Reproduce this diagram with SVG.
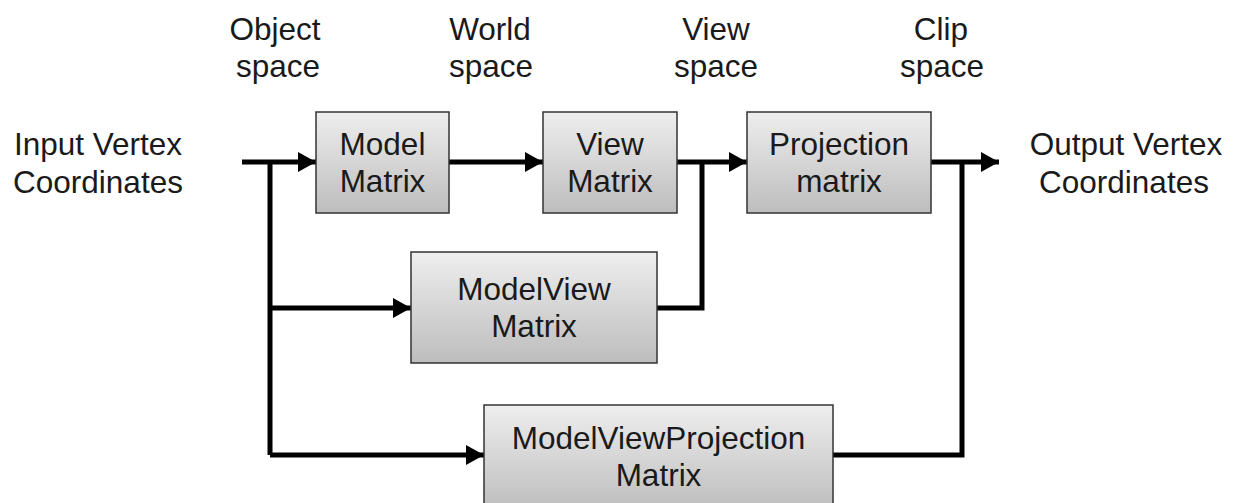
<svg xmlns="http://www.w3.org/2000/svg" width="1235" height="503" viewBox="0 0 1235 503">
  <style>
    text { font-family: "Liberation Sans", Arial, sans-serif; font-size: 31.5px; fill: #1a1a1a; text-anchor: middle; }
    .box { fill: url(#boxFill); stroke: #333333; stroke-width: 1.5; }
    .wire { fill: none; stroke: #000; stroke-width: 5; stroke-linejoin: miter; stroke-linecap: butt; }
    .arrow { marker-end: url(#head); }
  </style>
  <defs>
    <linearGradient id="boxFill" x1="0" y1="0" x2="0" y2="1">
      <stop offset="0" stop-color="#eeeeee"/>
      <stop offset="1" stop-color="#bdbdbd"/>
    </linearGradient>
    <marker id="head" markerUnits="userSpaceOnUse" markerWidth="18" markerHeight="22" viewBox="0 0 18 22" refX="18" refY="11" orient="auto">
      <path d="M0,1 L18,11 L0,21 Z" fill="#000"/>
    </marker>
  </defs>
  <rect width="1235" height="503" fill="#ffffff"/>

  <!-- space labels -->
  <g id="label-object"><text x="275" y="40">Object</text><text x="278" y="77">space</text></g>
  <g id="label-world"><text x="490" y="40">World</text><text x="491" y="77">space</text></g>
  <g id="label-view"><text x="716" y="40">View</text><text x="716" y="77">space</text></g>
  <g id="label-clip"><text x="941" y="40">Clip</text><text x="942" y="77">space</text></g>

  <!-- input / output labels -->
  <g id="input"><text x="98" y="155">Input Vertex</text><text x="98" y="193">Coordinates</text></g>
  <g id="output"><text x="1126" y="155">Output Vertex</text><text x="1124" y="193">Coordinates</text></g>

  <!-- connectors -->
  <g id="connectors">
    <path class="wire arrow" d="M242,162 H316"/>
    <path class="wire arrow" d="M449,162 H543"/>
    <path class="wire arrow" d="M677,162 H747"/>
    <path class="wire arrow" d="M931,162 H999"/>
    <path class="wire" d="M270,162 V455"/>
    <path class="wire arrow" d="M270,455 H484"/>
    <path class="wire arrow" d="M270,308 H411"/>
    <path class="wire" d="M657,308 H702 V162"/>
    <path class="wire" d="M833,455 H962 V162"/>
  </g>

  <!-- matrix nodes -->
  <g id="model-matrix">
    <rect class="box" x="316" y="112" width="133" height="101"/>
    <text x="382.5" y="155">Model</text><text x="382.5" y="192">Matrix</text>
  </g>
  <g id="view-matrix">
    <rect class="box" x="543" y="112" width="134" height="101"/>
    <text x="610" y="155">View</text><text x="610" y="192">Matrix</text>
  </g>
  <g id="projection-matrix">
    <rect class="box" x="747" y="112" width="184" height="101"/>
    <text x="839" y="155">Projection</text><text x="839" y="192">matrix</text>
  </g>
  <g id="modelview-matrix">
    <rect class="box" x="411" y="252" width="246" height="111"/>
    <text x="534" y="300">ModelView</text><text x="534" y="337">Matrix</text>
  </g>
  <g id="mvp-matrix">
    <rect class="box" x="484" y="405" width="349" height="106"/>
    <text x="658.5" y="449">ModelViewProjection</text><text x="658.5" y="486">Matrix</text>
  </g>
</svg>
